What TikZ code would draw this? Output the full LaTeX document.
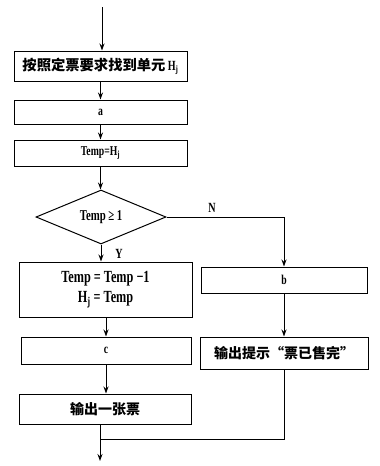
\documentclass[tikz,border=0pt]{standalone}
\usepackage{fontspec}
\setmainfont{Liberation Serif}[FakeStretch=0.72]
\newfontfamily\cjk{Noto Sans CJK SC}
\usetikzlibrary{arrows.meta,shapes.geometric}
\begin{document}
\begin{tikzpicture}[x=1pt,y=-1pt,
  box/.style={draw, line width=1pt, inner sep=0pt, font=\bfseries\fontsize{13.5}{15}\selectfont},
  dia/.style={draw, diamond, shape aspect=2.4, line width=1pt, inner sep=0pt, font=\bfseries\fontsize{15}{17}\selectfont},
  arr/.style={-{Stealth[length=7pt,width=5pt]}, line width=1pt},
  ln/.style={line width=1pt},
  lbl/.style={font=\bfseries\fontsize{14}{16}\selectfont},
  cj/.style={font=\bfseries\cjk\fontsize{14}{16}\selectfont}]
\useasboundingbox (0,0) rectangle (380,466);
\coordinate (s) at (102,7);
\node[box, cj, font=\bfseries\cjk\fontsize{14.3}{16}\selectfont, minimum width=173pt, minimum height=30pt] (n1) at (100.5,66)
  {按照定票要求找到单元\,{\rmfamily\fontsize{14}{16}\selectfont H\textsubscript{j}}};
\node[box, minimum width=173pt, minimum height=24pt] (na) at (100.5,112) {a};
\node[box, minimum width=173pt, minimum height=26pt] (nt) at (100.5,153) {Temp=H\textsubscript{j}};
\node[dia, minimum width=130pt, minimum height=54pt] (nd) at (101,217) {Temp\,≥\,1};
\node[box, minimum width=173pt, minimum height=55pt, align=center, font=\bfseries\fontsize{17}{19}\selectfont] (n5) at (105.5,289.5)
  {Temp = Temp −1\\[1pt] H\textsubscript{j} = Temp};
\node[box, minimum width=166pt, minimum height=26pt] (nb) at (284,280) {b};
\node[box, minimum width=170pt, minimum height=27pt] (nc) at (106,350.5) {c};
\node[box, cj, minimum width=168pt, minimum height=32pt] (no) at (284,353) {输出提示“票已售完”};
\node[box, cj, minimum width=172pt, minimum height=30pt] (n7) at (105,409) {输出一张票};
\node[lbl] (N) at (212,208) {N};
\node[lbl] (Y) at (119,254) {Y};
\coordinate (m) at (100,439);
\coordinate (e) at (100,461);
\draw[arr] (s) -- (s |- n1.north);
\draw[arr] (n1.south) -- (na.north);
\draw[arr] (na.south) -- (nt.north);
\draw[arr] (nt.south) -- (nt.south |- nd.north);
\draw[arr] (nd.south) -- (nd.south |- n5.north);
\draw[arr] (nd.east) -| (nb.north);
\draw[arr] (nb.south) -- (no.north);
\draw[arr] (n5.south -| nc.north) -- (nc.north);
\draw[arr] (nc.south) -- (nc.south |- n7.north);
\draw[ln] (no.south) |- (m);
\draw[ln] (m |- n7.south) -- (m);
\draw[arr] (m) -- (e);
\end{tikzpicture}
\end{document}
